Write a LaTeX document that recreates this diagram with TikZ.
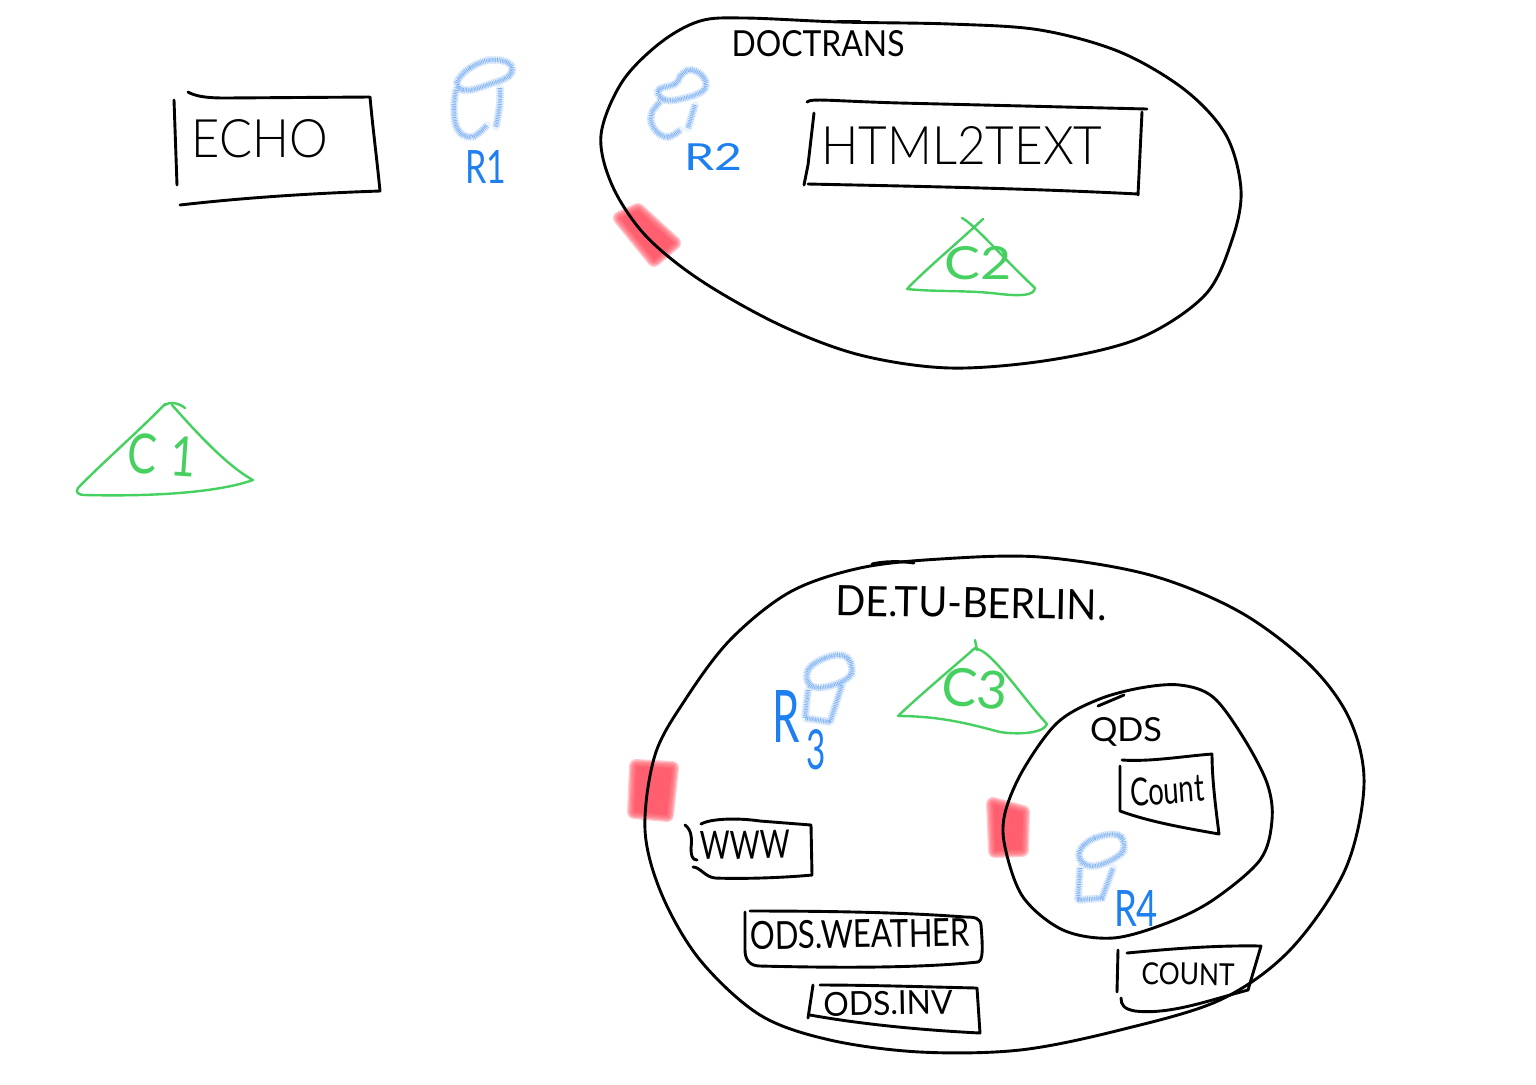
\documentclass[tikz,border=0pt]{standalone}
\usepackage{graphicx}
\usepackage{fontspec}
\setmainfont{Lato Light}
\newfontfamily\regfont{Lato}
\definecolor{penblue}{HTML}{1E7FF0}
\definecolor{brushblue}{HTML}{3F8CF0}
\definecolor{pengreen}{HTML}{45D060}
\definecolor{marker}{HTML}{FF5F6E}
\tikzset{
  pen/.style={black,line width=1.45pt,line cap=round,line join=round},
  gpen/.style={pengreen,line width=1.2pt,line cap=round,line join=round},
  hand/.style={inner sep=0pt,outer sep=0pt},
}
% handwritten label: name, cx, cy, rotation, width, height (reference pixels), text
\newcommand{\hw}[7]{\node[hand,rotate=#4] (#1) at (#2,#3) {\resizebox{\dimexpr#5pt/2\relax}{\dimexpr#6pt/2\relax}{#7}};}
\newcommand{\brushstroke}[1]{%
  \draw[brushblue,opacity=.10,line width=4pt,line cap=round,line join=round] #1;
  \draw[brushblue,opacity=.32,line width=3.4pt,line join=round,dash pattern=on .35pt off .55pt] #1;
  \draw[brushblue,opacity=.50,line width=1.8pt,line join=round,dash pattern=on .4pt off .4pt] #1;
}
\newcommand{\redpatch}[1]{%
  \foreach \w in {7,5.8,4.6,3.4,2.2,1}{\draw[marker,opacity=.32,line width=\w pt,line join=round] #1 -- cycle;}
  \fill[marker] #1 -- cycle;
}
\begin{document}
\begin{tikzpicture}[x=0.5pt,y=-0.5pt]
\path[use as bounding box,fill=white] (0,0) rectangle (1536,1084);

% red markers
\redpatch{(638,210) -- (674,243) -- (654,260) -- (620,218)}
\redpatch{(636,766) -- (672,768) -- (667,815) -- (634,812)}
\redpatch{(993,804) -- (1023,812) -- (1022,850) -- (995,851)}

% region outlines
\draw[pen] plot[smooth cycle,tension=.55] coordinates {(745,18) (700,21) (660,43) (622,82) (601,135) (612,185) (645,235) (700,280) (780,325) (860,355) (950,368) (1050,360) (1140,338) (1205,295) (1232,240) (1241,190) (1226,135) (1185,90) (1120,52) (1040,30) (950,24) (840,22)};
\draw[pen] (838,21) -- (860,21);
\draw[pen] plot[smooth cycle,tension=.55] coordinates {(940,559) (860,568) (790,592) (730,640) (685,700) (655,755) (645,830) (662,895) (700,960) (760,1015) (830,1040) (920,1052) (1020,1050) (1120,1030) (1220,1000) (1290,950) (1345,870) (1364,785) (1350,720) (1310,665) (1240,612) (1150,575) (1040,557)};
\draw[pen] (872,564) .. controls (885,561) and (900,561) .. (914,563);
\draw[pen] plot[smooth cycle,tension=.55] coordinates {(1180,685) (1213,697) (1243,737) (1267,783) (1272,820) (1260,860) (1213,900) (1167,923) (1113,938) (1063,930) (1023,897) (1005,847) (1005,813) (1023,770) (1057,723) (1097,700) (1140,688)};
\draw[pen] (1098,706) -- (1124,695);

% ECHO box
\draw[pen] (174,100) -- (177,185);
\draw[pen] (188,92) .. controls (195,96) and (205,98) .. (225,98) -- (370,97) .. controls (373,130) and (377,160) .. (380,191) .. controls (320,193) and (250,197) .. (180,205);
\hw{echo}{260}{139}{0}{136}{38}{ECHO}

% HTML2TEXT box
\draw[pen] (814,113) -- (808,165) -- (804,185);
\draw[pen] (807,102) .. controls (812,98) and (830,101) .. (900,103) -- (1147,109);
\draw[pen] (1142,112) -- (1138,195);
\draw[pen] (808,184) .. controls (900,186) and (1020,188) .. (1138,194);
\hw{html}{962}{145}{0}{281}{38}{HTML2TEXT}

\hw{doctrans}{818}{44}{0}{173}{26}{\regfont DOCTRANS}
\hw{tub}{971}{603}{-1}{271}{30}{\regfont DE.TU-BERLIN.}
\hw{qds}{1126}{732}{0}{72}{24}{\regfont QDS}

% inner COUNT box
\draw[pen] (1122,760) .. controls (1150,762) and (1185,756) .. (1212,754) .. controls (1212,780) and (1216,810) .. (1219,834) .. controls (1185,828) and (1150,822) .. (1120,811) -- (1120,766);
\hw{counta}{1167}{790}{4}{74}{28}{\regfont Count}

% outer COUNT box
\draw[pen] (1118,950) -- (1117,992);
\draw[pen] (1127,953) .. controls (1160,950) and (1210,945) .. (1261,946) -- (1248,990) .. controls (1210,1000) and (1170,1015) .. (1135,1011) .. controls (1124,1009) and (1121,1005) .. (1121,998);
\hw{countb}{1188}{974}{-1}{93}{22}{\regfont COUNT}

% WWW box
\draw[pen] (685,825) .. controls (692,830) and (692,840) .. (691,848) .. controls (691,855) and (692,860) .. (697,860);
\draw[pen] (701,824) .. controls (712,818) and (740,818) .. (760,821) -- (811,825) -- (812,875) .. controls (780,878) and (740,879) .. (715,878) .. controls (705,877) and (700,867) .. (693,867);
\hw{www}{745}{845}{1}{90}{28}{\regfont WWW}

% ODS.WEATHER box
\draw[pen] (745,912) -- (745,950) .. controls (745,960) and (750,966) .. (760,966) .. controls (840,968) and (920,968) .. (978,962) .. controls (983,960) and (983,950) .. (981,925) .. controls (980,918) and (975,917) .. (965,917) .. controls (900,912) and (820,911) .. (750,911);
\hw{weather}{860}{934}{1}{220}{28}{\regfont ODS.WEATHER}

% ODS.INV box
\draw[pen] (813,985) -- (808,1018);
\draw[pen] (820,985) .. controls (870,985) and (930,987) .. (977,988) -- (980,1033) .. controls (920,1030) and (860,1024) .. (810,1015);
\hw{inv}{888}{1003}{1}{129}{24}{\regfont ODS.INV}

% green triangles
\draw[gpen] (165,405) .. controls (168,402) and (178,402) .. (185,408);
\draw[gpen] (172,405) .. controls (190,425) and (225,465) .. (253,480) .. controls (225,490) and (170,497) .. (85,495) .. controls (78,495) and (75,492) .. (78,488) .. controls (100,465) and (140,430) .. (165,404);
\hw{cone}{162}{455}{-4}{69}{40}{\regfont\textcolor{pengreen}{C\,\,1}}
\draw[gpen] (962,218) .. controls (975,225) and (1000,255) .. (1035,288) .. controls (1034,296) and (1020,296) .. (1000,294) .. controls (970,290) and (935,292) .. (907,289) .. controls (925,270) and (955,245) .. (983,219);
\hw{ctwo}{978}{263}{0}{67}{33}{\regfont\textcolor{pengreen}{C2}}
\draw[gpen] (975,640) -- (977,650);
\draw[gpen] (972,650) .. controls (985,640) and (1020,695) .. (1047,724) .. controls (1044,733) and (1020,735) .. (1000,732) .. controls (970,724) and (940,716) .. (898,716) .. controls (920,695) and (950,670) .. (975,648);
\hw{cthree}{975}{689}{-5}{66}{38}{\regfont\textcolor{pengreen}{C3}}

% replica cylinders
\brushstroke{plot[smooth cycle,tension=.7] coordinates {(458,80) (470,68) (490,60) (510,64) (509,76) (490,84) (470,90) (459,88)}}
\brushstroke{plot[smooth,tension=.7] coordinates {(456,90) (454,110) (458,130) (472,137) (487,125)}}
\brushstroke{(500,88) .. controls (501,105) and (498,115) .. (496,127)}
\hw{rone}{486}{167}{0}{41}{33}{\regfont\textcolor{penblue}{R1}}

\brushstroke{plot[smooth cycle,tension=.7] coordinates {(658,90) (675,84) (682,74) (692,70) (704,78) (704,90) (685,98) (665,100)}}
\brushstroke{plot[smooth,tension=.7] coordinates {(660,102) (651,115) (655,130) (668,137) (680,130)}}
\brushstroke{(695,105) -- (688,128)}
\hw{rtwo}{713}{157}{0}{58}{27}{\regfont\textcolor{penblue}{R2}}

\brushstroke{plot[smooth cycle,tension=.7] coordinates {(808,670) (825,658) (845,656) (852,670) (845,680) (825,687) (810,685)}}
\brushstroke{(808,690) -- (805,718) -- (830,722) -- (842,685)}
\hw{rthree}{799}{730}{0}{54}{52}{\regfont\textcolor{penblue}{R\,\raisebox{-.38em}{\scalebox{.76}{3}}}}

\brushstroke{plot[smooth cycle,tension=.7] coordinates {(1080,850) (1095,838) (1118,835) (1124,848) (1115,858) (1095,866) (1082,862)}}
\brushstroke{(1080,868) -- (1078,900) -- (1102,898) -- (1113,868)}
\hw{rfour}{1136}{908}{0}{44}{36}{\regfont\textcolor{penblue}{R4}}
\end{tikzpicture}
\end{document}
